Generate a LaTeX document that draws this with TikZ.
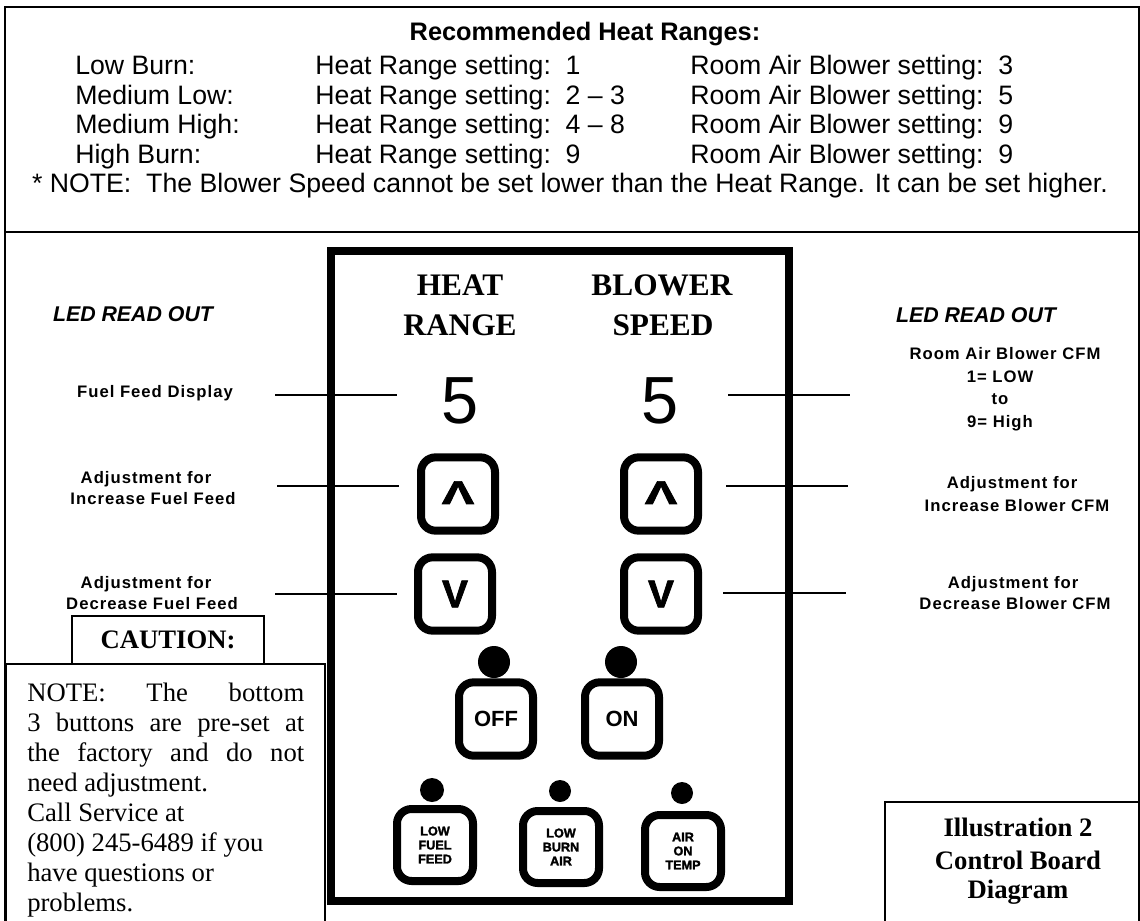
\documentclass[tikz,border=0pt]{standalone}
\usepackage{fontspec}
\setmainfont{Liberation Serif}
\newfontfamily\arial{Liberation Sans}
\newfontfamily\arialsp[LetterSpace=6]{Liberation Sans}
\newfontfamily\heavy[BoldFeatures={FakeBold=2}]{Liberation Sans}
\newfontfamily\tms{Liberation Serif}
\begin{document}
\begin{tikzpicture}[x=0.75pt,y=-0.75pt,
  toptxt/.style={font=\arial\fontsize{20}{24}\selectfont, anchor=base west, inner sep=0pt},
  lbl/.style={font=\arialsp\bfseries\fontsize{12.5}{15}\selectfont, anchor=base, inner sep=0pt},
  led/.style={font=\arial\bfseries\itshape\fontsize{16}{19}\selectfont, anchor=base, inner sep=0pt},
  hdr/.style={font=\tms\bfseries\fontsize{23.5}{28}\selectfont, anchor=base, inner sep=0pt},
  digit/.style={font=\arial\fontsize{50}{60}\selectfont, anchor=base, inner sep=0pt},
  btn/.style={draw, line width=6pt, rounded corners=11pt, minimum width=55.5pt, minimum height=55pt, inner sep=0pt},
  glyph/.style={font=\heavy\bfseries\fontsize{29}{32}\selectfont},
  pbtn/.style={btn, font=\arial\bfseries\fontsize{16.5}{18}\selectfont},
  sbtn/.style={btn, minimum width=57pt, minimum height=54pt, font=\heavy\bfseries\fontsize{9.5}{10.5}\selectfont, align=center},
  dot/.style={circle, fill, inner sep=0pt},
  lead/.style={line width=1.5pt},
  frame/.style={line width=1.5pt},
  boxln/.style={line width=1.1pt},
  note/.style={font=\tms\fontsize{20}{22}\selectfont, anchor=base west, inner sep=0pt},
  ttl/.style={font=\tms\bfseries\fontsize{20}{22}\selectfont, anchor=base, inner sep=0pt},
]
\useasboundingbox (0,0) rectangle (1140,921);

% outer frame and divider
\draw[frame] (5,921) -- (5,7) -- (1139,7) -- (1139,921);
\draw[frame] (5,232) -- (1139,232);

% top table
\node[font=\arial\bfseries\fontsize{19}{22}\selectfont, anchor=base, inner sep=0pt] (title) at (585,40.5) {Recommended Heat Ranges:};
\node[toptxt] (r1a) at (75,74.5) {Low Burn:};
\node[toptxt] (r1b) at (315,74.5) {Heat Range setting:\ \ 1};
\node[toptxt] (r1c) at (690,74.5) {Room Air Blower setting:\ \ 3};
\node[toptxt] (r2a) at (75,104) {Medium Low:};
\node[toptxt] (r2b) at (315,104) {Heat Range setting:\ \ 2 – 3};
\node[toptxt] (r2c) at (690,104) {Room Air Blower setting:\ \ 5};
\node[toptxt] (r3a) at (75,133.5) {Medium High:};
\node[toptxt] (r3b) at (315,133.5) {Heat Range setting:\ \ 4 – 8};
\node[toptxt] (r3c) at (690,133.5) {Room Air Blower setting:\ \ 9};
\node[toptxt] (r4a) at (75,163) {High Burn:};
\node[toptxt] (r4b) at (315,163) {Heat Range setting:\ \ 9};
\node[toptxt] (r4c) at (690,163) {Room Air Blower setting:\ \ 9};
\node[toptxt, anchor=base] (topnote) at (570,192.5) {* NOTE:\ \ The Blower Speed cannot be set lower than the Heat Range. It can be set higher.};

% control board
\node[draw, line width=6pt, minimum width=343.5pt, minimum height=487.5pt, inner sep=0pt] (board) at (560,576) {};
\node[hdr] (heat) at (460,295) {HEAT};
\node[hdr] (range) at (460,335) {RANGE};
\node[hdr] (blower) at (662,295) {BLOWER};
\node[hdr] (speed) at (663,335) {SPEED};
\node[digit] (d1) at (460,423) {5};
\node[digit] (d2) at (660,423) {5};
\node[btn, glyph] (hu) at (458,494) {\raisebox{2pt}{\scalebox{1.25}[0.85]{Λ}}};
\node[btn, glyph] (bu) at (661,494) {\raisebox{2pt}{\scalebox{1.25}[0.85]{Λ}}};
\node[btn, glyph] (hd) at (455,594) {V};
\node[btn, glyph] (bd) at (661,594) {V};
\node[pbtn] (off) at (496,719) {OFF};
\node[pbtn] (on) at (622,719) {ON};
\node[dot, minimum size=24pt] (doff) at (494,662) {};
\node[dot, minimum size=24pt] (don) at (621,662) {};
\node[sbtn] (lff) at (435,845) {LOW\\FUEL\\FEED};
\node[sbtn] (lba) at (561,847) {LOW\\BURN\\AIR};
\node[sbtn] (aot) at (683,851) {AIR\\ON\\TEMP};
\node[dot, minimum size=18pt] (dlff) at (432,790) {};
\node[dot, minimum size=16.5pt] (dlba) at (560,791) {};
\node[dot, minimum size=16.5pt] (daot) at (682,793) {};

% left labels
\node[led] (ledl) at (133,321.5) {LED READ OUT};
\node[lbl] (ffd) at (155,397) {Fuel Feed Display};
\node[lbl] (la1) at (146,483) {Adjustment for};
\node[lbl] (la2) at (153,504) {Increase Fuel Feed};
\node[lbl] (lb1) at (146,588) {Adjustment for};
\node[lbl] (lb2) at (152,609) {Decrease Fuel Feed};

% right labels
\node[led] (ledr) at (976,322) {LED READ OUT};
\node[lbl] (rc1) at (1005,359) {Room Air Blower CFM};
\node[lbl] (rc2) at (1000,382) {1= LOW};
\node[lbl] (rc3) at (1000,404) {to};
\node[lbl] (rc4) at (1000,427) {9= High};
\node[lbl] (ra1) at (1012,488) {Adjustment for};
\node[lbl] (ra2) at (1017,511) {Increase Blower CFM};
\node[lbl] (rb1) at (1013,588) {Adjustment for};
\node[lbl] (rb2) at (1015,609) {Decrease Blower CFM};

% leader lines
\coordinate (c1a) at (275,395); \coordinate (c1b) at (397,395);
\coordinate (c2a) at (277,486); \coordinate (c2b) at (399,486);
\coordinate (c3a) at (275,594); \coordinate (c3b) at (397,594);
\coordinate (c4a) at (728,395); \coordinate (c4b) at (850,395);
\coordinate (c5a) at (726,486); \coordinate (c5b) at (848,486);
\coordinate (c6a) at (723,593); \coordinate (c6b) at (846,593);
\draw[lead] (c1a) -- (c1b);
\draw[lead] (c2a) -- (c2b);
\draw[lead] (c3a) -- (c3b);
\draw[lead] (c4a) -- (c4b);
\draw[lead] (c5a) -- (c5b);
\draw[lead] (c6a) -- (c6b);

% caution / note box
\node[draw, boxln, minimum width=144pt, minimum height=36pt, inner sep=0pt, font=\tms\bfseries\fontsize{20}{22}\selectfont] (caution) at (168,640) {CAUTION:};
\draw[boxln] (6,921) -- (6,664) -- (325,664) -- (325,921);
\node[note] (n1) at (27,701) {\makebox[207.75pt][s]{NOTE: The bottom}};
\node[note] (n2) at (27,731) {\makebox[207.75pt][s]{3 buttons are pre-set at}};
\node[note] (n3) at (27,761) {\makebox[207.75pt][s]{the factory and do not}};
\node[note] (n4) at (27,791) {need adjustment.};
\node[note] (n5) at (27,821) {Call Service at};
\node[note] (n6) at (27,851) {(800) 245-6489 if you};
\node[note] (n7) at (27,881) {have questions or};
\node[note] (n8) at (27,911) {problems.};

% illustration box
\draw[boxln] (885,921) -- (885,802) -- (1139,802);
\node[ttl] (t1) at (1018,836) {Illustration 2};
\node[ttl] (t2) at (1018,869) {Control Board};
\node[ttl] (t3) at (1018,898) {Diagram};
\end{tikzpicture}
\end{document}
